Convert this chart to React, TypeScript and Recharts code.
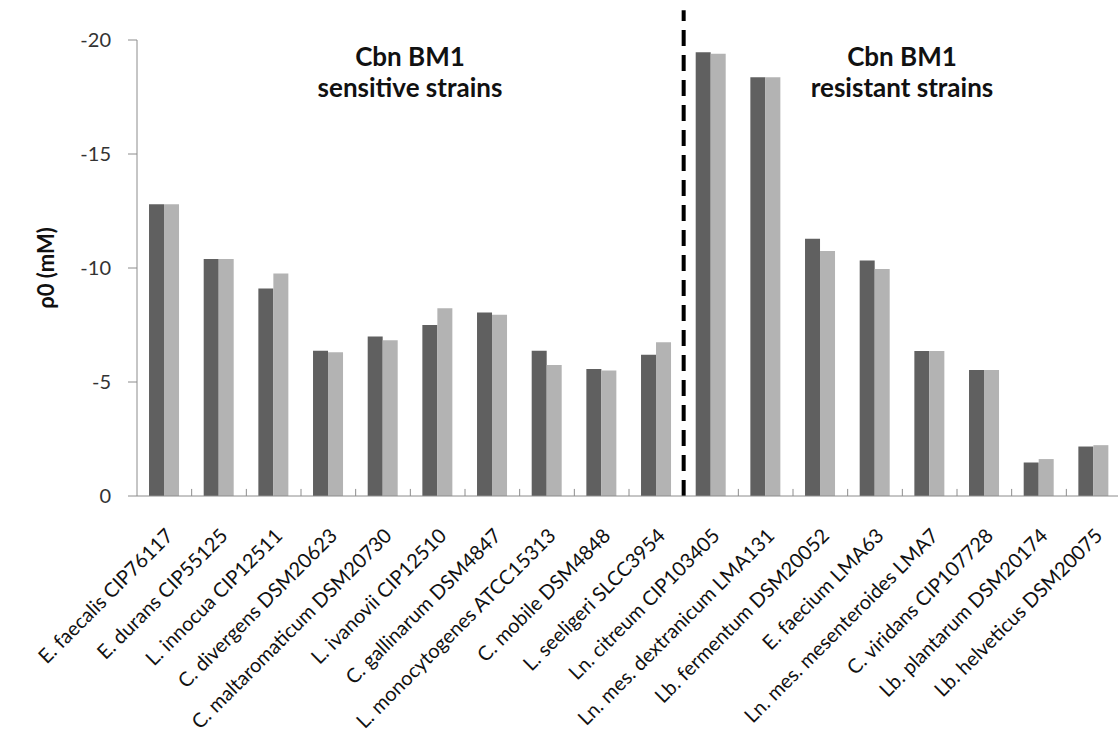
import React from 'react';
import { BarChart, Bar, XAxis, YAxis, ReferenceLine } from 'recharts';

const strains = [
  'E. faecalis CIP76117',
  'E. durans CIP55125',
  'L. innocua CIP12511',
  'C. divergens DSM20623',
  'C. maltaromaticum DSM20730',
  'L. ivanovii CIP12510',
  'C. gallinarum DSM4847',
  'L. monocytogenes ATCC15313',
  'C. mobile DSM4848',
  'L. seeligeri SLCC3954',
  'Ln. citreum CIP103405',
  'Ln. mes. dextranicum LMA131',
  'Lb. fermentum DSM20052',
  'E. faecium LMA63',
  'Ln. mes. mesenteroides LMA7',
  'C. viridans CIP107728',
  'Lb. plantarum DSM20174',
  'Lb. helveticus DSM20075',
];

const darkValues = [-12.8, -10.4, -9.1, -6.37, -7.0, -7.5, -8.05, -6.37, -5.57, -6.2, -19.46, -18.37, -11.28, -10.33, -6.36, -5.53, -1.47, -2.17];
const lightValues = [-12.8, -10.4, -9.76, -6.3, -6.83, -8.23, -7.95, -5.75, -5.5, -6.74, -19.4, -18.37, -10.75, -9.96, -6.36, -5.53, -1.62, -2.23];

const yTicks = [-20, -15, -10, -5, 0];

// first resistant strain, the dashed line sits at its left edge
const firstResistant = 'Ln. citreum CIP103405';

const data = strains.map((name, i) => ({ name, dark: darkValues[i], light: lightValues[i] }));

const font = 'Lato, "Open Sans", sans-serif';

const groupTitle: React.CSSProperties = {
  position: 'absolute',
  top: 41,
  width: 300,
  textAlign: 'center',
  fontWeight: 'bold',
  fontSize: 26,
  lineHeight: '31px',
  color: '#111',
};

export default function App() {
  return (
    <div style={{ position: 'absolute', left: 0, top: 0, width: 1118, height: 742, overflow: 'hidden', background: '#fff', fontFamily: font }}>
      <BarChart
        width={1125}
        height={742}
        data={data}
        margin={{ top: 40, right: 4, bottom: 6, left: 0 }}
        barCategoryGap="22%"
        barGap={0}
      >
        <XAxis
          dataKey="name"
          interval={0}
          height={240}
          tickLine={false}
          tickSize={6}
          tickMargin={25}
          axisLine={{ stroke: '#8c8c8c' }}
          tick={{ angle: -45, textAnchor: 'end', fill: '#111', fontSize: 20, fontFamily: font }}
        />
        <YAxis
          reversed
          domain={[-20, 0]}
          ticks={yTicks}
          width={137}
          tickSize={9}
          tickMargin={17}
          axisLine={{ stroke: '#8c8c8c' }}
          tickLine={{ stroke: '#8c8c8c' }}
          tick={{ fill: '#333', fontSize: 20, fontFamily: font }}
          label={{
            value: 'ρ0 (mM)',
            angle: -90,
            position: 'insideLeft',
            offset: 46,
            style: { textAnchor: 'middle', fontWeight: 'bold', fontSize: 22, fill: '#111', fontFamily: font },
          }}
        />
        {strains.slice(1).map((s) => (
          <ReferenceLine
            key={s}
            position="start"
            segment={[{ x: s, y: 0 }, { x: s, y: -0.31 }]}
            stroke="#8c8c8c"
            strokeWidth={1}
          />
        ))}
        <Bar dataKey="dark" fill="#606060" isAnimationActive={false} />
        <Bar dataKey="light" fill="#b3b3b3" isAnimationActive={false} />
        <ReferenceLine
          position="start"
          segment={[{ x: firstResistant, y: 0 }, { x: firstResistant, y: -21.3 }]}
          ifOverflow="visible"
          stroke="#000"
          strokeWidth={4}
          strokeDasharray="16 9"
        />
      </BarChart>
      <div style={{ ...groupTitle, left: 260 }}>
        Cbn BM1
        <br />
        sensitive strains
      </div>
      <div style={{ ...groupTitle, left: 752 }}>
        Cbn BM1
        <br />
        resistant strains
      </div>
    </div>
  );
}
